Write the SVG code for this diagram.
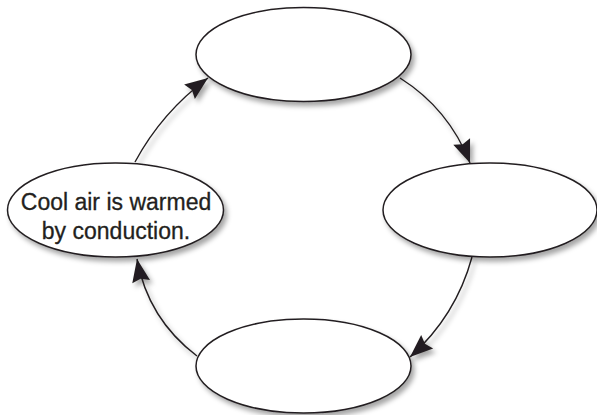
<svg xmlns="http://www.w3.org/2000/svg" width="597" height="415" viewBox="0 0 597 415">
  <defs>
    <filter id="shadow" x="-30%" y="-30%" width="160%" height="160%">
      <feDropShadow dx="3" dy="4" stdDeviation="2.5" flood-color="#000" flood-opacity="0.35"/>
    </filter>
    <marker id="arrow" markerUnits="userSpaceOnUse" markerWidth="26" markerHeight="20" refX="23" refY="10" orient="auto" overflow="visible">
      <path d="M0,1 L23,10 L0,19 L3,10 Z" fill="#231f20"/>
    </marker>
    <style>
      .node { fill: #fff; stroke: #231f20; stroke-width: 1.5; filter: url(#shadow); }
      .conn { fill: none; stroke: #231f20; stroke-width: 1.4; marker-end: url(#arrow); filter: url(#shadow); }
      .label { font-family: "Liberation Sans", Arial, sans-serif; font-size: 23px; fill: #231f20; stroke: #231f20; stroke-width: 0.3; text-anchor: middle; }
    </style>
  </defs>
  <rect width="597" height="415" fill="#fff"/>
  <g id="connectors">
    <path class="conn" d="M400,78 Q449,109 470,163"/>
    <path class="conn" d="M472,257 Q456,316 410,357"/>
    <path class="conn" d="M197,356 Q148,319 137,259"/>
    <path class="conn" d="M135,162 Q162,112 208,78"/>
  </g>
  <g id="node-top">
    <ellipse class="node" cx="303.5" cy="54.5" rx="107.5" ry="47"/>
  </g>
  <g id="node-right">
    <ellipse class="node" cx="490" cy="210" rx="107" ry="47"/>
  </g>
  <g id="node-bottom">
    <ellipse class="node" cx="303.5" cy="366" rx="107.5" ry="47"/>
  </g>
  <g id="node-left">
    <ellipse class="node" cx="115.5" cy="210" rx="108" ry="47"/>
    <text class="label" x="116" y="210">Cool air is warmed</text>
    <text class="label" x="116" y="239">by conduction.</text>
  </g>
</svg>
